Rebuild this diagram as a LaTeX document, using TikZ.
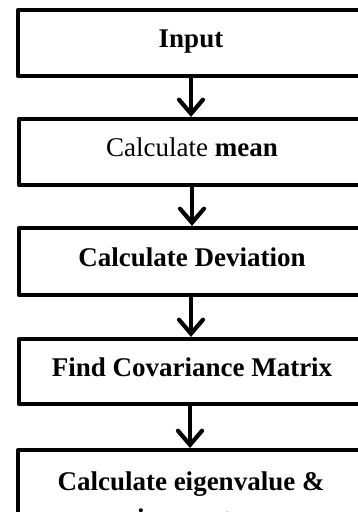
\documentclass[tikz,border=0pt]{standalone}
\usepackage{fontspec}
\setmainfont{Liberation Serif}
\usetikzlibrary{arrows.meta}
\begin{document}
\begin{tikzpicture}[x=1pt,y=-1pt,
  box/.style={draw=black, line width=4.2pt, line join=round, rectangle,
    minimum width=346pt, inner sep=0pt, fill=white,
    font=\fontsize{27}{33}\selectfont, text height=21pt, text depth=12pt},
  flow/.style={line width=4.2pt, -{Straight Barb[length=14pt,width=24pt,line cap=round]}}]
\useasboundingbox (0,0) rectangle (357,512);
\node[box, minimum height=66pt] (b1) at (191,43) {\textbf{Input}};
\node[box, minimum height=66pt] (b2) at (192,152) {Calculate \textbf{mean}};
\node[box, minimum height=67pt] (b3) at (192,261.5) {\textbf{Calculate Deviation}};
\node[box, minimum height=65pt] (b4) at (192,371.5) {\textbf{Find Covariance Matrix}};
\node[box, minimum height=110pt, anchor=north, align=center, font=\fontsize{27}{37}\selectfont, text height=77pt, text depth=40pt] (b5) at (191,448) {\textbf{Calculate eigenvalue \&}\\\textbf{eigenvector}};
\draw[flow] (b1.south -| 191,0) -- (b2.north -| 191,0);
\draw[flow] (b2.south -| 192,0) -- (b3.north -| 192,0);
\draw[flow] (b3.south -| 191,0) -- (b4.north -| 191,0);
\draw[flow] (b4.south -| 190,0) -- (b5.north -| 190,0);
\end{tikzpicture}
\end{document}
